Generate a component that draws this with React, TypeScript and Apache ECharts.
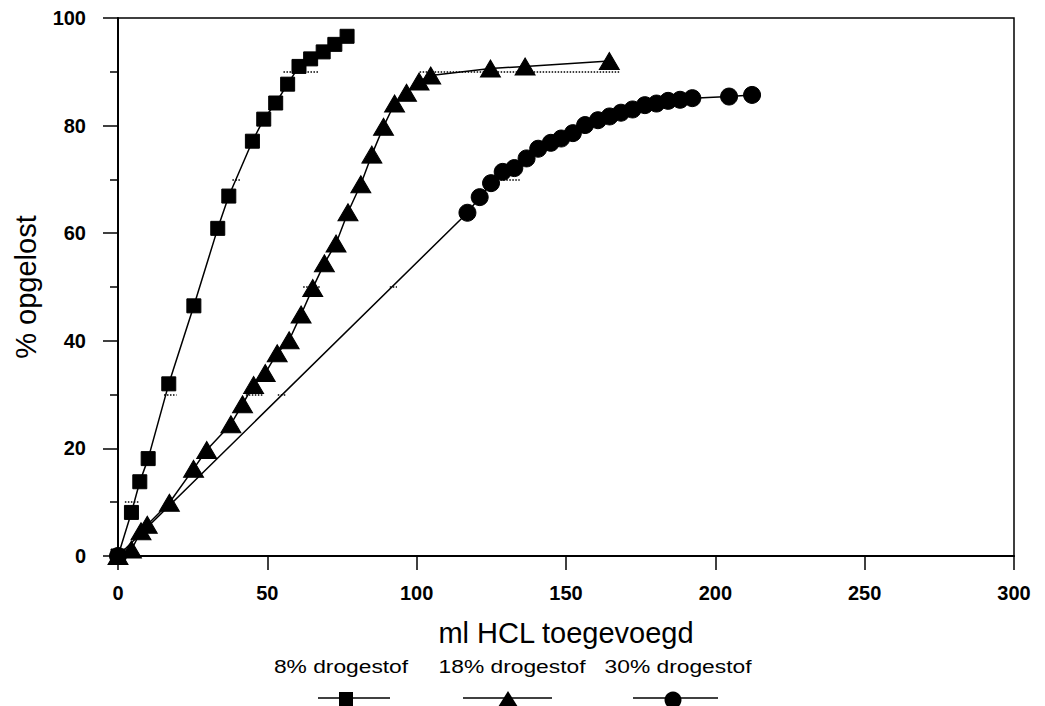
import React, { useEffect, useRef } from "react";
import * as echarts from "echarts";

const seriesNames = ["8% drogestof", "18% drogestof", "30% drogestof"];
const xTitle = "ml HCL toegevoegd";
const yTitle = "% opgelost";

const sq8X = [0, 4.5, 7.3, 10.1, 17.0, 25.4, 33.4, 37.1, 45.0, 48.8, 52.8, 56.8, 60.6, 64.5, 68.7, 72.6, 76.7];
const sq8Y = [0, 8.1, 13.8, 18.1, 32.0, 46.5, 60.9, 66.9, 77.1, 81.2, 84.2, 87.7, 91.0, 92.4, 93.7, 95.1, 96.6];

const tri18X = [0, 4.5, 7.7, 9.8, 17.2, 25.3, 29.7, 37.8, 41.7, 45.4, 49.3, 53.3, 57.3, 61.3, 65.2, 69.1, 73.0, 77.0, 81.3, 85.0, 88.9, 92.6, 96.6, 100.8, 104.7, 124.7, 136.3, 164.5];
const tri18Y = [0, 1.2, 4.6, 5.8, 9.9, 16.2, 19.7, 24.5, 28.2, 31.8, 34.0, 37.7, 40.1, 44.9, 49.8, 54.4, 58.1, 63.9, 69.1, 74.6, 79.8, 84.1, 86.1, 88.2, 89.3, 90.6, 91.0, 92.0];

const cir30X = [0, 117.0, 121.1, 124.9, 128.8, 132.7, 136.8, 140.7, 144.9, 148.4, 152.3, 156.4, 160.7, 164.6, 168.4, 172.3, 176.4, 180.3, 184.2, 188.2, 192.3, 204.6, 212.3];
const cir30Y = [0, 63.8, 66.7, 69.3, 71.4, 72.1, 73.9, 75.7, 76.8, 77.6, 78.6, 80.1, 81.0, 81.7, 82.4, 83.0, 83.8, 84.1, 84.6, 84.8, 85.1, 85.4, 85.7];

// short dotted fragments visible in the original figure
const dotY = [90, 90, 70, 70, 50, 50, 30, 30, 30, 10];
const dotX0 = [55.4, 101, 38.3, 127, 62, 91, 42.8, 53.5, 15.4, 2.3];
const dotX1 = [67.2, 167.8, 41, 134.5, 67.8, 93.4, 48.8, 56.5, 19.6, 7.1];

const xMin = 0, xMax = 300, xStep = 50;
const yMin = 0, yMax = 100, yStep = 20;

const FONT = "'Liberation Sans', Arial, Helvetica, sans-serif";

function zip(xs: number[], ys: number[]) {
  return xs.map((x, i) => [x, ys[i]]);
}

export default function App() {
  const ref = useRef<HTMLDivElement>(null);
  useEffect(() => {
    if (!ref.current) return;
    const chart = echarts.init(ref.current, null, { renderer: "svg" });
    const lineStyle = { color: "#000", width: 1.5 };
    const itemStyle = { color: "#000", borderColor: "#000" };
    const legendY = 666;
    const sampleY = 698;
    chart.setOption({
      animation: false,
      backgroundColor: "#fff",
      textStyle: { fontFamily: FONT, color: "#000" },
      grid: {
        left: 118,
        right: 31,
        top: 18,
        bottom: 150,
        show: true,
        borderColor: "#000",
        borderWidth: 1.5,
        containLabel: false,
      },
      xAxis: {
        type: "value",
        min: xMin,
        max: xMax,
        interval: xStep,
        name: xTitle,
        nameLocation: "middle",
        nameGap: 62,
        nameTextStyle: { fontSize: 29, fontFamily: FONT, color: "#000" },
        axisLine: { show: true, onZero: false, lineStyle: { color: "#000", width: 2 } },
        axisTick: { show: true, inside: false, length: 14, lineStyle: { color: "#000", width: 1.5 } },
        axisLabel: { margin: 27, fontSize: 20, fontWeight: "bold", color: "#000", fontFamily: FONT },
        splitLine: { show: false },
      },
      yAxis: {
        type: "value",
        min: yMin,
        max: yMax,
        interval: yStep,
        name: yTitle,
        nameLocation: "middle",
        nameGap: 78,
        nameRotate: 90,
        nameTextStyle: { fontSize: 29, fontFamily: FONT, color: "#000" },
        axisLine: { show: true, onZero: false, lineStyle: { color: "#000", width: 2 } },
        axisTick: { show: true, inside: false, length: 15, lineStyle: { color: "#000", width: 1.5 } },
        minorTick: { show: true, splitNumber: 2, length: 8, lineStyle: { color: "#000", width: 1.5 } },
        axisLabel: { margin: 32, fontSize: 20, fontWeight: "bold", color: "#000", fontFamily: FONT },
        splitLine: { show: false },
      },
      series: [
        {
          name: "dots",
          type: "line",
          data: [],
          silent: true,
          markLine: {
            silent: true,
            symbol: ["none", "none"],
            label: { show: false },
            lineStyle: { type: "dotted", color: "#000", width: 1.5 },
            data: dotY.map((y, i) => [{ coord: [dotX0[i], y] }, { coord: [dotX1[i], y] }]),
          },
        },
        {
          name: seriesNames[2],
          type: "line",
          data: zip(cir30X, cir30Y),
          symbol: "circle",
          symbolSize: 17,
          showAllSymbol: true,
          lineStyle,
          itemStyle,
        },
        {
          name: seriesNames[1],
          type: "line",
          data: zip(tri18X, tri18Y),
          symbol: "triangle",
          symbolSize: [20, 17],
          showAllSymbol: true,
          lineStyle,
          itemStyle,
        },
        {
          name: seriesNames[0],
          type: "line",
          data: zip(sq8X, sq8Y),
          symbol: "rect",
          symbolSize: 14,
          showAllSymbol: true,
          lineStyle,
          itemStyle,
        },
      ],
      graphic: [
        { type: "text", x: 341, y: legendY, scaleX: 1.2, style: { text: seriesNames[0], fontSize: 19, fontFamily: FONT, fill: "#000", textAlign: "center", textVerticalAlign: "middle" } },
        { type: "text", x: 512, y: legendY, scaleX: 1.2, style: { text: seriesNames[1], fontSize: 19, fontFamily: FONT, fill: "#000", textAlign: "center", textVerticalAlign: "middle" } },
        { type: "text", x: 678, y: legendY, scaleX: 1.2, style: { text: seriesNames[2], fontSize: 19, fontFamily: FONT, fill: "#000", textAlign: "center", textVerticalAlign: "middle" } },
        { type: "line", shape: { x1: 318, y1: sampleY, x2: 390, y2: sampleY }, style: { stroke: "#000", lineWidth: 1.5 } },
        { type: "line", shape: { x1: 463, y1: sampleY, x2: 552, y2: sampleY }, style: { stroke: "#000", lineWidth: 1.5 } },
        { type: "line", shape: { x1: 633, y1: sampleY, x2: 718, y2: sampleY }, style: { stroke: "#000", lineWidth: 1.5 } },
        { type: "rect", shape: { x: 339, y: 692, width: 14, height: 14 }, style: { fill: "#000" } },
        { type: "polygon", shape: { points: [[498, 707], [508, 691], [518, 707]] }, style: { fill: "#000" } },
        { type: "circle", shape: { cx: 673, cy: 700, r: 8.5 }, style: { fill: "#000" } },
      ],
    });
    return () => chart.dispose();
  }, []);
  return (
    <div
      ref={ref}
      style={{ position: "fixed", left: 0, top: 0, width: 1045, height: 706, background: "#fff" }}
    />
  );
}
